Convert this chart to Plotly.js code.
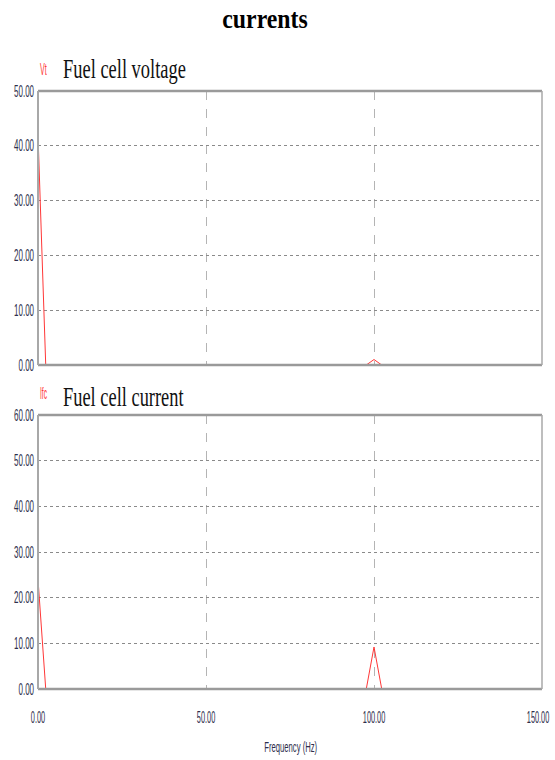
<!DOCTYPE html>
<html>
<head>
<meta charset="utf-8">
<script src="https://cdn.plot.ly/plotly-3.0.1.min.js"></script>
<style>
  html, body { margin: 0; padding: 0; background: #ffffff; }
  #chart { width: 555px; height: 760px; }
</style>
</head>
<body>
<div id="chart"></div>
<script>
// Harmonic spectrum of the fuel cell output (frequency in Hz)
const frequency = [0, 2.3, 97.7, 100, 102.3, 150];
const voltageVt = [42, 0, 0, 1.0, 0, 0];      // Vt amplitude
const currentIfc = [24, 0, 0, 9.2, 0, 0];     // Ifc amplitude

const voltageTicks = [0, 10, 20, 30, 40, 50];
const currentTicks = [0, 10, 20, 30, 40, 50, 60];
const freqTicks = [0, 50, 100, 150];

const W = 555, H = 760;
const px = v => v / W;
const py = v => 1 - v / H;

const sans = "'Liberation Sans', Arial, sans-serif";
const serif = "'Liberation Serif', 'Times New Roman', serif";
const tickColor = '#2e2e4c';
const red = 'rgb(255,55,55)';

const xDomain = [px(38), px(542)];

const traceStyle = { mode: 'lines', line: { color: red, width: 1 }, hoverinfo: 'skip', showlegend: false };

const data = [
  Object.assign({ x: frequency, y: voltageVt, xaxis: 'x', yaxis: 'y' }, traceStyle),
  Object.assign({ x: frequency, y: currentIfc, xaxis: 'x2', yaxis: 'y2' }, traceStyle)
];

function yAxis(domain, ticks) {
  return {
    domain: domain,
    range: [ticks[0], ticks[ticks.length - 1]],
    tickvals: ticks,
    ticktext: ticks.map(t => t.toFixed(2)),
    tickfont: { family: sans, size: 16, color: tickColor },
    ticklabelstandoff: 3,
    showgrid: true,
    gridcolor: '#8a8a8a',
    griddash: 'dot',
    gridwidth: 1,
    zeroline: false,
    showline: false,
    ticks: '',
    fixedrange: true
  };
}

function xAxis(anchor, showLabels) {
  return {
    domain: xDomain,
    anchor: anchor,
    range: [0, 150],
    tickvals: freqTicks,
    ticktext: freqTicks.map(t => t.toFixed(2)),
    showticklabels: showLabels,
    ticklabeloverflow: 'allow',
    tickfont: { family: sans, size: 16, color: tickColor },
    ticks: showLabels ? 'outside' : '',
    ticklen: 14,
    tickcolor: 'rgba(0,0,0,0)',
    showgrid: true,
    gridcolor: '#b4b4b4',
    griddash: 'dash',
    gridwidth: 1,
    zeroline: false,
    showline: false,
    fixedrange: true
  };
}

// Panel frames: heavier top/bottom edges, lighter sides
function frame(xr, yr) {
  const base = { type: 'line', xref: xr + ' domain', yref: yr + ' domain', layer: 'above' };
  return [
    Object.assign({ x0: 0, x1: 1, y0: 1, y1: 1, line: { color: '#9a9a9a', width: 2.5 } }, base),
    Object.assign({ x0: 0, x1: 1, y0: 0, y1: 0, line: { color: '#9a9a9a', width: 2.5 } }, base),
    Object.assign({ x0: 0, x1: 0, y0: 0, y1: 1, line: { color: '#a8a8a8', width: 2 } }, base),
    Object.assign({ x0: 1, x1: 1, y0: 0, y1: 1, line: { color: '#a8a8a8', width: 1.5 } }, base)
  ];
}

const layout = {
  width: W,
  height: H,
  margin: { l: 0, r: 0, t: 0, b: 0 },
  paper_bgcolor: '#ffffff',
  plot_bgcolor: '#ffffff',
  showlegend: false,
  title: {
    text: '<b>currents</b>',
    font: { family: serif, size: 27, color: '#000000' },
    x: px(265), xanchor: 'center', xref: 'paper',
    y: py(19), yanchor: 'middle', yref: 'paper'
  },
  xaxis: xAxis('y', false),
  yaxis: yAxis([py(365), py(91)], voltageTicks),
  xaxis2: xAxis('y2', true),
  yaxis2: yAxis([py(689), py(415)], currentTicks),
  shapes: frame('x', 'y').concat(frame('x2', 'y2')),
  annotations: [
    { text: 'Fuel cell voltage', xref: 'paper', yref: 'paper', x: px(61), y: py(69),
      xanchor: 'left', yanchor: 'middle', align: 'left', showarrow: false,
      font: { family: serif, size: 27, color: '#111111' } },
    { text: 'Vt', xref: 'paper', yref: 'paper', x: px(38), y: py(70),
      xanchor: 'left', yanchor: 'middle', align: 'left', showarrow: false,
      font: { family: sans, size: 16, color: red } },
    { text: 'Fuel cell current', xref: 'paper', yref: 'paper', x: px(61), y: py(397),
      xanchor: 'left', yanchor: 'middle', align: 'left', showarrow: false,
      font: { family: serif, size: 27, color: '#111111' } },
    { text: 'Ifc', xref: 'paper', yref: 'paper', x: px(38), y: py(394),
      xanchor: 'left', yanchor: 'middle', align: 'left', showarrow: false,
      font: { family: sans, size: 16, color: red } },
    { text: 'Frequency (Hz)', xref: 'paper', yref: 'paper', x: px(290), y: py(746),
      xanchor: 'center', yanchor: 'middle', showarrow: false,
      font: { family: sans, size: 15, color: tickColor } }
  ]
};

// Tall, narrow lettering: scale a text horizontally about its anchor point
function squeeze(el, k, dx) {
  const b = el.getBBox();
  if (!b.width) return;
  const anchor = el.getAttribute('text-anchor') || getComputedStyle(el).textAnchor;
  let p = b.x + b.width / 2;
  if (anchor === 'end') p = b.x + b.width;
  else if (anchor === 'start') p = b.x;
  const t = el.getAttribute('transform') || '';
  el.setAttribute('transform',
    `${t} translate(${(p + (dx || 0)).toFixed(2)},0) scale(${k.toFixed(4)},1) translate(${(-p).toFixed(2)},0)`);
}
function squeezeTo(el, width) {
  const b = el.getBBox();
  if (b.width) squeeze(el, width / b.width, 0);
}

Plotly.newPlot('chart', data, layout, { staticPlot: true, displayModeBar: false }).then(gd => {
  gd.querySelectorAll('.ytick text, .y2tick text').forEach(el => squeeze(el, 0.5));
  const xLabels = Array.from(gd.querySelectorAll('.x2tick text'));
  // the last frequency label sits at the right edge; nudge it inward a little
  xLabels.forEach((el, i) => squeeze(el, 0.46, i === xLabels.length - 1 ? -4 : 0));
  const ann = gd.querySelectorAll('.annotation-text');
  const widths = [123, 7, 121, 7, 53];
  ann.forEach((el, i) => { if (widths[i]) squeezeTo(el, widths[i]); });
  gd.querySelectorAll('.gtitle').forEach(el => squeeze(el, 0.88));
});
</script>
</body>
</html>
